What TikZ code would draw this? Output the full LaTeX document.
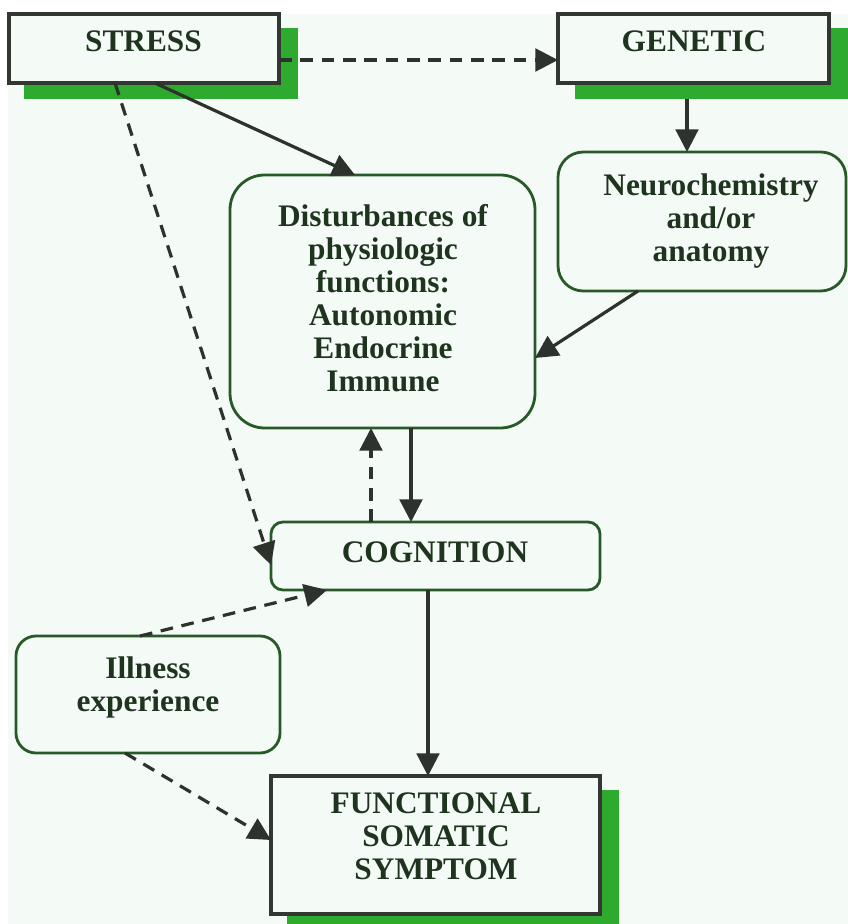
\documentclass[tikz,border=0pt]{standalone}
\usepackage{fontspec}
\setmainfont{Liberation Serif}
\usetikzlibrary{arrows.meta,calc}
\definecolor{bgtint}{RGB}{244,250,246}
\definecolor{shadowgreen}{RGB}{46,170,46}
\definecolor{rectline}{RGB}{50,55,50}
\definecolor{roundline}{RGB}{40,90,40}
\definecolor{txt}{RGB}{30,52,30}
\definecolor{arrowcol}{RGB}{45,50,45}
\begin{document}
\begin{tikzpicture}[x=0.75pt,y=-0.75pt,
  every node/.style={inner sep=0pt, outer sep=0pt},
  lbl/.style={font=\fontsize{23.5}{24.75}\selectfont\bfseries, text=txt, align=center},
  rectbox/.style={draw=rectline, line width=3pt, fill=bgtint, rectangle},
  roundbox/.style={draw=roundline, line width=2.1pt, fill=bgtint, rectangle},
  shadowbox/.style={fill=shadowgreen, rectangle},
  conn/.style={draw=arrowcol, line width=2.4pt, -{Triangle[length=17pt,width=17pt]}},
  dashconn/.style={conn, dash pattern=on 9.5pt off 6.5pt},
]
\useasboundingbox (0,0) rectangle (848,924);
\fill[white] (0,0) rectangle (848,924);
\fill[bgtint] (8,14) rectangle (848,924);

% shadows
\node[shadowbox, minimum width=205.5pt, minimum height=53.25pt] (stressS) at (161,63.5) {};
\node[shadowbox, minimum width=204.75pt, minimum height=53.25pt] (geneticS) at (711.5,63.5) {};
\node[shadowbox, minimum width=249pt, minimum height=100.5pt] (funcS) at (453,857) {};

% boxes
\node[rectbox, minimum width=202.5pt, minimum height=51.75pt] (stress) at (144,48.5) {};
\node[rectbox, minimum width=203.25pt, minimum height=51.75pt] (genetic) at (693.5,48.5) {};
\node[roundbox, rounded corners=26pt, minimum width=228.75pt, minimum height=189.75pt] (dist) at (382.5,301.5) {};
\node[roundbox, rounded corners=19pt, minimum width=216pt, minimum height=104.25pt] (neuro) at (702,221.5) {};
\node[roundbox, rounded corners=9pt, minimum width=246.75pt, minimum height=51pt] (cog) at (435.5,556) {};
\node[roundbox, rounded corners=15pt, minimum width=198pt, minimum height=87.75pt] (illness) at (148,694.5) {};
\node[rectbox, minimum width=246.75pt, minimum height=103.5pt] (func) at (435.5,845) {};

% connectors
\draw[dashconn] ($(stress.east)+(0,11.5)$) -- ($(genetic.west)+(0,11.5)$);
\draw[conn] ($(stress.south)+(11,0)$) -- ($(dist.north)+(-27.5,0)$);
\draw[dashconn] ($(stress.south)+(-29,0)$) -- ($(cog.west)+(0,9)$);
\draw[conn] ($(geneticS.south)+(-24.5,0)$) -- ($(neuro.north)+(-15,0)$);
\draw[conn] ($(neuro.south)+(-64,0)$) -- ($(dist.east)+(0,56.5)$);
\draw[conn] ($(dist.south)+(28.5,0)$) -- ($(cog.north)+(-24.5,0)$);
\draw[dashconn] ($(cog.north)+(-64.5,0)$) -- ($(dist.south)+(-11.5,0)$);
\draw[dashconn] ($(illness.north)+(-8,0)$) -- ($(cog.south)+(-108.5,0)$);
\draw[dashconn] ($(illness.south)+(-23,0)$) -- ($(func.west)+(0,-5)$);
\draw[conn] ($(cog.south)+(-7.5,0)$) -- ($(func.north)+(-7.5,0)$);

% texts
\node[lbl, anchor=base] (stressT) at (143.5,52) {STRESS};
\node[lbl, anchor=base] (geneticT) at (694,52) {GENETIC};
\node[lbl, anchor=north] (distT) at (383,204) {Disturbances of\\physiologic\\functions:\\Autonomic\\Endocrine\\Immune};
\node[lbl, anchor=north] (neuroT) at (711,174) {Neurochemistry\\and/or\\anatomy};
\node[lbl, anchor=base] (cogT) at (435,562) {COGNITION};
\node[lbl, anchor=north] (illnessT) at (148,657) {Illness\\experience};
\node[lbl, anchor=north] (funcT) at (436,793) {FUNCTIONAL\\SOMATIC\\SYMPTOM};
\end{tikzpicture}
\end{document}
